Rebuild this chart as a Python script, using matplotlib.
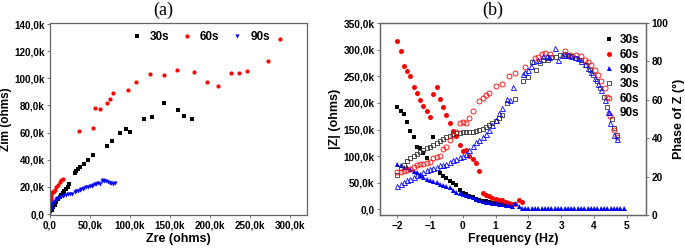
import numpy as np
import matplotlib
matplotlib.use('Agg')
import matplotlib.pyplot as plt
from matplotlib.ticker import FuncFormatter

plt.rcParams['font.family'] = ['Liberation Sans', 'DejaVu Sans']
plt.rcParams['font.weight'] = 'bold'

# ---------- (a) Nyquist: Zre / Zim in k ohms ----------
zre_30 = [2, 4, 6, 8, 10, 12, 14, 16, 18, 20, 22, 24, 31, 33, 35, 38, 42, 47, 54,
          71, 78, 87, 95, 100, 117, 128, 143, 160, 167, 178]
zim_30 = [3, 5, 7, 9, 11, 12.5, 14, 15.5, 17, 18.5, 20, 22, 30.5, 32, 33, 34.5, 37, 40, 43.5,
          50.5, 54, 59.7, 63, 60.5, 69.9, 71.4, 81.7, 76.8, 72.6, 69.9]

zre_60 = [0.3, 0.6, 0.8, 1.2, 1.8, 2.5, 3.5, 5, 6.5, 8, 10, 12, 14, 16,
          36, 54, 56, 63, 71, 74.5, 79, 98, 108, 125, 143, 159, 180, 196, 210,
          226, 236, 246, 272, 288]
zim_60 = [6, 9, 11, 13, 15, 16.5, 16, 17, 18, 19.7, 21.5, 23.5, 25, 26,
          61.3, 63.7, 78, 77.7, 81.7, 84.4, 89.5, 91.5, 97.2, 103.3, 102.4, 105.8, 104.8, 97.4, 94.5,
          103.8, 103.8, 105.3, 112.7, 128.9]

zre_90 = [0.2, 0.5, 0.8, 1.2, 1.8, 2.5, 3.5, 4.5, 6, 8, 10, 12, 14, 16, 18, 20, 22.5, 25, 27,
          31, 33, 35, 37, 39, 41, 43, 45, 47.5, 50, 52, 54, 56, 58, 60, 62, 64.5, 66.5, 68,
          70, 72.5, 74.5, 76.7, 79, 81]
zim_90 = [0.8, 2.5, 4, 5.4, 6.5, 7.4, 8.3, 9, 9.8, 10.8, 11.6, 12.3, 12.8, 13.4, 13.9, 14.3, 14.8, 15.0, 14.6,
          16.5, 16.9, 17.3, 17.7, 18.2, 18.7, 19.2, 19.6, 20.1, 20.5, 20.9, 21.3, 21.9, 22.2, 22.6, 22.1, 24.6, 25, 24.6,
          24.2, 23.8, 23.2, 22.6, 22, 22.6]

# ---------- (b) Bode: log frequency, |Z| in k ohms, phase in degrees ----------
f_mod_30 = [-2.0, -1.9, -1.8, -1.7, -1.6, -1.5, -1.4, -1.3, -1.2, -1.1, -0.9, -0.7, -0.6, -0.5, -0.4, -0.3, -0.2,
            -0.1, 0.0, 0.1, 0.2, 0.3, 0.4, 0.5, 0.6, 0.7, 0.8, 0.9, 1.0, 1.1, 1.2, 1.3, 1.4]
mod_30 = [192, 184, 180, 165, 148, 136, 118, 116, 106, 96, 136, 69, 63, 58, 53, 50, 45,
          36, 31, 28, 25, 22, 20, 18, 16, 14.5, 13, 12, 11, 10, 9, 8, 6]

f_mod_60 = [-2.0, -1.9, -1.8, -1.7, -1.6, -1.5, -1.4, -1.3, -1.2, -1.1, -1.0, -0.9, -0.8, -0.7, -0.6, -0.5, -0.4,
            -0.3, -0.2, -0.1, 0.0, 0.1, 0.2, 0.3, 0.4, 0.5, 0.6, 0.7, 0.8, 0.9, 1.0, 1.1, 1.2, 1.3, 1.4,
            1.5, 1.6, 1.7, 1.8]
mod_60 = [317, 297, 270, 260, 250, 231, 219, 205, 194, 184, 173, 216, 231, 208, 193, 178, 162,
          147, 137, 120, 110, 111, 100, 95, 87, 71, 31, 27, 24, 21, 19.5, 18, 16.5, 14, 12,
          10, 9, 17, 13]

f_mod_90 = [-2.0, -1.9, -1.8, -1.7, -1.6, -1.5, -1.4, -1.3, -1.2, -1.1, -1.0, -0.9, -0.8, -0.7, -0.6, -0.5,
            -0.4, -0.3, -0.2, -0.1, 0.0, 0.1, 0.2, 0.3, 0.4, 0.5, 0.6, 0.7, 0.8, 0.9, 1.0, 1.1, 1.2, 1.3,
            1.4, 1.5, 1.6, 1.7, 1.8, 1.9, 2.0, 2.1, 2.2, 2.3, 2.4, 2.5, 2.6, 2.7, 2.8, 2.9, 3.0, 3.1,
            3.2, 3.3, 3.4, 3.5, 3.6, 3.7, 3.8, 3.9, 4.0, 4.1, 4.2, 4.3, 4.4, 4.5, 4.6, 4.7, 4.8, 4.9]
mod_90 = [85, 83, 80, 79, 75, 72.5, 70, 64, 60, 57, 55, 53, 51, 48, 45, 44,
          42, 37, 33, 31, 29, 27, 25, 22, 20, 18, 16, 14, 13, 12, 11, 10, 9, 8,
          7, 6, 12, 6, 2.5, 2.0, 1.8, 1.7, 1.6, 1.5, 1.5, 1.5, 1.4, 1.4, 1.4, 1.4, 1.4, 1.4,
          1.4, 1.4, 1.4, 1.4, 1.4, 1.4, 1.4, 1.4, 1.4, 1.4, 1.4, 1.4, 1.4, 1.4, 1.4, 1.4, 1.4, 1.4]

f_ph_30 = [-2.0, -1.9, -1.8, -1.7, -1.6, -1.5, -1.4, -1.3, -1.2, -1.1, -1.0, -0.9, -0.8, -0.7, -0.6, -0.5,
           -0.4, -0.3, -0.2, -0.1, 0.0, 0.1, 0.2, 0.3, 0.4, 0.5, 0.6, 0.7, 0.8, 0.9, 1.0, 1.1, 1.2,
           1.36, 1.6, 1.82, 2.0, 2.12, 2.22, 2.35, 2.45, 2.6, 2.7, 2.85, 2.95, 3.1, 3.2, 3.31, 3.46,
           3.61, 3.74, 3.87, 3.97, 4.09, 4.19, 4.3, 4.4, 4.53, 4.6, 4.7]
ph_30 = [21, 24.5, 26, 28, 29.5, 31, 32, 33, 34, 35, 35.5, 36.5, 37.5, 38.5, 39.5, 40.5,
         41, 42, 42.5, 42.5, 43, 43, 43.5, 43.5, 44, 44.5, 45, 46, 47, 48, 49, 50.5, 52,
         58.3, 60.4, 69.6, 71.7, 79.8, 75.3, 79, 80.5, 81, 82.3, 82.3, 83.3, 83.7, 83.5, 83, 82,
         80.5, 78, 75.3, 72.8, 69.6, 66.1, 61.7, 56.5, 50, 45.5, 41.9]

f_ph_60 = [-2.0, -1.9, -1.8, -1.7, -1.6, -1.5, -1.4, -1.3, -1.2, -1.1, -1.0, -0.9, -0.8, -0.7, -0.6, -0.5,
           -0.4, -0.3, -0.2, -0.1, 0.0, 0.1, 0.2, 0.3, 0.5, 0.6, 0.7, 0.8, 1.0, 1.2, 1.4, 1.6, 1.9,
           2.2, 2.3, 2.4, 2.5, 2.65, 3.1, 3.26, 3.46, 3.61, 3.71, 3.81, 3.92, 4.02, 4.12, 4.22, 4.32,
           4.4, 4.49, 4.6, 4.7]
ph_60 = [22.5, 22.5, 23, 23.5, 24, 25, 26.3, 26.7, 26.7, 27, 27.5, 29.5, 30.2, 30.5, 34.5, 35.5,
         39, 41.5, 43.5, 48, 48.6, 48, 50.4, 54.4, 59.5, 61, 62.6, 63.5, 67, 68.4, 72.6, 74, 77.2,
         81.6, 82.5, 84, 84.6, 83.7, 85.4, 83.3, 83.3, 82.8, 81, 79.8, 78, 75.8, 72.8, 69.6, 66.1,
         61.7, 51.7, 44.2, 40.7]

f_ph_90 = [-2.0, -1.9, -1.8, -1.7, -1.6, -1.5, -1.4, -1.3, -1.2, -1.1, -1.0, -0.9, -0.8, -0.7, -0.6, -0.5,
           -0.4, -0.3, -0.2, -0.1, 0.0, 0.1, 0.2, 0.3, 0.4, 0.5, 0.6, 0.7, 0.8, 0.9, 1.0, 1.1, 1.2,
           1.33, 1.43, 1.54, 1.82, 1.89, 1.99, 2.09, 2.15, 2.3, 2.45, 2.55, 2.63, 2.8, 2.9, 3.01, 3.11,
           3.21, 3.31, 3.41, 3.51, 3.61, 3.71, 3.81, 3.92, 4.02, 4.12, 4.22, 4.32, 4.42, 4.49, 4.6, 4.7]
ph_90 = [15.3, 16.3, 17, 18, 19, 20, 21, 21.6, 22.5, 23.3, 24, 24.5, 25, 25.8, 26.2, 26.7,
         27.5, 28.5, 29.3, 30, 31, 32, 34, 36, 38, 39, 40.7, 42, 44.5, 47, 49.5, 53, 55.6,
         60.4, 60, 66.7, 73.7, 74.6, 75.8, 77.5, 80, 81, 82.8, 82.8, 82.3, 86.8, 81, 83.3, 83.3,
         83.3, 82.8, 82.3, 81.6, 80.2, 78.6, 76.5, 74.6, 71.4, 68.3, 65.3, 60, 53.5, 47.7, 41.9, 39.5]

legend_labels = ['30s', '60s', '90s']

fig = plt.figure(figsize=(6.85, 2.48), dpi=100)
spine_col = '#666666'


def k_fmt(v, pos):
    if abs(v) < 1e-9:
        return '0,0'
    return ('%.1f' % (v / 1000)).replace('.', ',') + 'k'


def style_ax(ax, size=7.3):
    for s in ax.spines.values():
        s.set_color(spine_col)
        s.set_linewidth(0.9)
    ax.tick_params(labelsize=size, length=2, width=0.6, color=spine_col, pad=2)


# panel (a)
ax1 = fig.add_axes([0.073, 0.133, 0.375, 0.774])
k = 1000
ax1.plot(np.array(zre_30) * k, np.array(zim_30) * k, 's', color='black', ms=2.3, mew=0, label=legend_labels[0])
ax1.plot(np.array(zre_60) * k, np.array(zim_60) * k, 'o', color='red', ms=3.0, mew=0, label=legend_labels[1])
ax1.plot(np.array(zre_90) * k, np.array(zim_90) * k, 'v', color='blue', ms=3.0, mew=0, label=legend_labels[2])
ax1.set_xlim(0, 321000)
ax1.set_ylim(-700, 140700)
ax1.set_xticks(np.arange(0, 300001, 50000))
ax1.set_yticks(np.arange(0, 140001, 20000))
ax1.xaxis.set_major_formatter(FuncFormatter(k_fmt))
ax1.yaxis.set_major_formatter(FuncFormatter(k_fmt))
ax1.set_xlabel('Zre (ohms)', fontsize=9, fontweight='bold', labelpad=2)
ax1.set_ylabel('Zim (ohms)', fontsize=8.5, fontweight='bold')
ax1.yaxis.set_label_coords(-0.148, 0.5)
style_ax(ax1, 7.1)
ax1.legend(ncol=3, loc='center', bbox_to_anchor=(0.585, 0.925), frameon=False,
           prop={'size': 8.5, 'weight': 'bold'}, handlelength=1.0, handletextpad=0.6,
           columnspacing=1.0, numpoints=1)
fig.text(0.238, 0.958, '(a)', fontsize=13, family='Liberation Serif', fontweight='normal',
         ha='center', va='center')

# panel (b)
ax2 = fig.add_axes([0.555, 0.133, 0.388, 0.774])
ax3 = ax2.twinx()
h1, = ax2.plot(f_mod_30, np.array(mod_30) * k, 's', color='black', ms=3.2, mew=0)
h2, = ax2.plot(f_mod_60, np.array(mod_60) * k, 'o', color='red', ms=3.6, mew=0)
h3, = ax2.plot(f_mod_90, np.array(mod_90) * k, '^', color='blue', ms=3.6, mew=0)
h4, = ax3.plot(f_ph_30, ph_30, 's', mfc='none', mec='#333333', ms=3.4, mew=0.6)
h5, = ax3.plot(f_ph_60, ph_60, 'o', mfc='none', mec='red', ms=3.6, mew=0.6)
h6, = ax3.plot(f_ph_90, ph_90, '^', mfc='none', mec='blue', ms=3.6, mew=0.6)
ax2.set_xlim(-2.52, 5.58)
ax2.set_ylim(-11000, 350500)
ax3.set_ylim(0, 100)
ax2.set_xticks(range(-2, 6))
ax2.set_yticks(np.arange(0, 350001, 50000))
ax3.set_yticks(range(0, 101, 20))
ax2.yaxis.set_major_formatter(FuncFormatter(k_fmt))
ax2.set_xlabel('Frequency (Hz)', fontsize=9, fontweight='bold', labelpad=2)
ax2.set_ylabel('|Z| (ohms)', fontsize=9, fontweight='bold', labelpad=2)
ax3.set_ylabel('Phase of Z (\u00b0)', fontsize=9, fontweight='bold', labelpad=3)
style_ax(ax2)
style_ax(ax3)
ax3.legend([h1, h2, h3, h4, h5, h6], legend_labels * 2, loc='upper right', frameon=False,
           prop={'size': 8.5, 'weight': 'bold'}, handlelength=0.8, handletextpad=0.5,
           labelspacing=0.22, borderaxespad=0.15, numpoints=1, bbox_to_anchor=(1.0, 0.975))
fig.text(0.72, 0.958, '(b)', fontsize=13, family='Liberation Serif', fontweight='normal',
         ha='center', va='center')

fig.savefig('out.png', dpi=100)
